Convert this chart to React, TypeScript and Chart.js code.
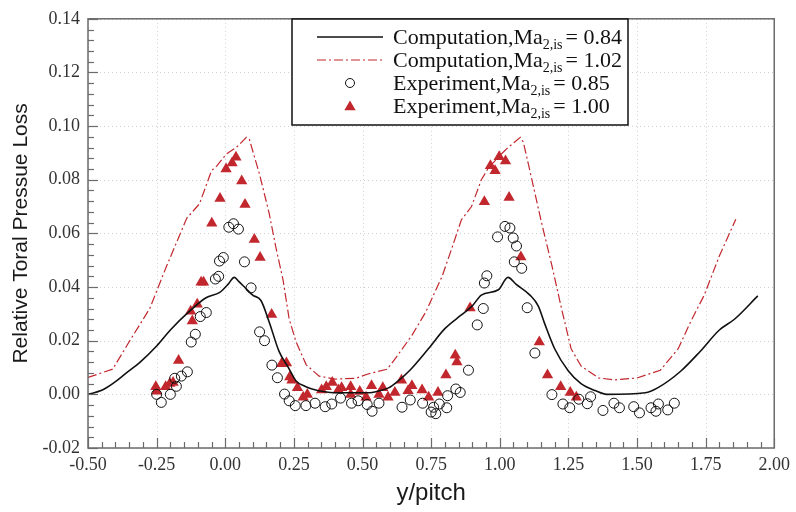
import { useEffect, useRef } from 'react';
import { Chart, registerables } from 'chart.js';

Chart.register(...registerables);

// Tick values along each axis
const X_TICKS = [-0.5, -0.25, 0, 0.25, 0.5, 0.75, 1.0, 1.25, 1.5, 1.75, 2.0];
const Y_TICKS = [-0.02, 0, 0.02, 0.04, 0.06, 0.08, 0.1, 0.12, 0.14];

// Computation, Ma2,is = 0.84 (solid line)
const COMP084_X = [-0.5, -0.45, -0.41, -0.36, -0.31, -0.25, -0.2, -0.13, -0.07, -0.02, 0.01, 0.033, 0.05, 0.07, 0.1, 0.13, 0.16, 0.196, 0.23, 0.258, 0.29, 0.316, 0.4, 0.52, 0.56, 0.595, 0.63, 0.67, 0.74, 0.8, 0.86, 0.9, 0.933, 0.995, 1.03, 1.06, 1.11, 1.14, 1.165, 1.2, 1.25, 1.296, 1.35, 1.39, 1.53, 1.575, 1.66, 1.73, 1.8, 1.855, 1.94];
const COMP084_Y = [0.0, 0.0015, 0.004, 0.008, 0.012, 0.018, 0.024, 0.031, 0.036, 0.038, 0.041, 0.0436, 0.042, 0.04, 0.037, 0.035, 0.027, 0.016, 0.01, 0.005, 0.003, 0.002, 0.0006, 0.0006, 0.0013, 0.0024, 0.005, 0.0087, 0.017, 0.0245, 0.0296, 0.033, 0.037, 0.039, 0.0436, 0.041, 0.037, 0.033, 0.026, 0.017, 0.0087, 0.004, 0.0013, 0.0, 0.0006, 0.0024, 0.0087, 0.016, 0.024, 0.028, 0.0367];

// Computation, Ma2,is = 1.02 (dash-dot line)
const COMP102_X = [-0.5, -0.41, -0.35, -0.275, -0.213, -0.14, -0.094, -0.05, -0.032, 0.004, 0.04, 0.077, 0.088, 0.125, 0.16, 0.186, 0.21, 0.233, 0.258, 0.295, 0.342, 0.4, 0.476, 0.52, 0.59, 0.62, 0.68, 0.73, 0.79, 0.824, 0.86, 0.897, 0.933, 0.96, 1.006, 1.03, 1.075, 1.086, 1.115, 1.15, 1.19, 1.225, 1.26, 1.296, 1.36, 1.42, 1.5, 1.585, 1.65, 1.695, 1.745, 1.8, 1.86];
const COMP102_Y = [0.0063, 0.0094, 0.0196, 0.032, 0.048, 0.0657, 0.071, 0.0834, 0.085, 0.0896, 0.092, 0.0958, 0.095, 0.082, 0.0675, 0.054, 0.043, 0.028, 0.0196, 0.011, 0.0068, 0.0057, 0.006, 0.0076, 0.0094, 0.0134, 0.022, 0.0306, 0.044, 0.054, 0.065, 0.07, 0.08, 0.0846, 0.0896, 0.092, 0.0958, 0.094, 0.081, 0.065, 0.048, 0.032, 0.017, 0.0106, 0.0061, 0.0054, 0.0061, 0.009, 0.017, 0.027, 0.037, 0.0516, 0.0653];

// Experiment, Ma2,is = 0.85 (open circles)
const EXP085_X = [-0.25, -0.233, -0.2, -0.184, -0.178, -0.16, -0.138, -0.124, -0.109, -0.091, -0.069, -0.036, -0.024, -0.021, -0.007, 0.013, 0.03, 0.048, 0.07, 0.094, 0.125, 0.143, 0.17, 0.19, 0.216, 0.233, 0.255, 0.294, 0.327, 0.364, 0.388, 0.42, 0.46, 0.484, 0.517, 0.535, 0.56, 0.644, 0.674, 0.719, 0.75, 0.759, 0.767, 0.78, 0.807, 0.81, 0.84, 0.856, 0.886, 0.918, 0.94, 0.944, 0.953, 0.992, 1.019, 1.037, 1.049, 1.061, 1.053, 1.08, 1.1, 1.128, 1.19, 1.23, 1.255, 1.288, 1.319, 1.331, 1.376, 1.416, 1.436, 1.488, 1.509, 1.551, 1.569, 1.578, 1.612, 1.636];
const EXP085_Y = [0.0, -0.003, 0.0, 0.006, 0.003, 0.0068, 0.0084, 0.0195, 0.0224, 0.029, 0.0305, 0.043, 0.044, 0.0497, 0.051, 0.0623, 0.0636, 0.0616, 0.0494, 0.0397, 0.0233, 0.02, 0.0109, 0.0062, 0.0001, -0.0024, -0.0042, -0.0042, -0.0033, -0.0046, -0.0036, -0.0014, -0.0033, -0.0024, -0.0038, -0.0063, -0.0033, -0.0048, -0.0021, -0.0033, -0.0066, -0.0048, -0.0072, -0.0036, -0.005, -0.0005, 0.002, 0.0007, 0.009, 0.0259, 0.032, 0.0415, 0.0442, 0.0587, 0.0626, 0.062, 0.0583, 0.0553, 0.0494, 0.047, 0.0323, 0.0154, -0.0001, -0.0036, -0.005, -0.0018, -0.0035, -0.0009, -0.006, -0.0033, -0.005, -0.0046, -0.0069, -0.005, -0.0063, -0.0036, -0.0058, -0.0033];

// Experiment, Ma2,is = 1.00 (filled triangles)
const EXP100_X = [-0.253, -0.25, -0.217, -0.202, -0.19, -0.17, -0.126, -0.12, -0.102, -0.088, -0.079, -0.049, -0.019, 0.003, 0.025, 0.039, 0.06, 0.072, 0.106, 0.127, 0.169, 0.205, 0.223, 0.235, 0.243, 0.263, 0.284, 0.299, 0.351, 0.368, 0.39, 0.412, 0.424, 0.457, 0.457, 0.49, 0.513, 0.533, 0.56, 0.574, 0.593, 0.618, 0.642, 0.666, 0.68, 0.717, 0.741, 0.775, 0.804, 0.838, 0.844, 0.892, 0.944, 0.966, 0.983, 0.998, 1.021, 1.034, 1.077, 1.144, 1.174, 1.222, 1.257, 1.279];
const EXP100_Y = [0.0028, 0.0012, 0.0028, 0.004, 0.0044, 0.0126, 0.031, 0.0273, 0.0336, 0.0418, 0.0418, 0.0638, 0.073, 0.084, 0.0862, 0.0884, 0.0795, 0.0708, 0.0577, 0.051, 0.0298, 0.0114, 0.0117, 0.0065, 0.0053, 0.0025, -0.0011, -0.0001, 0.0016, 0.0028, 0.0044, 0.0016, 0.0025, 0.0028, -0.0001, 0.0011, -0.0011, 0.0032, -0.0001, 0.0025, -0.0011, 0.0007, 0.0053, 0.0013, 0.0032, 0.0016, -0.0011, 0.0007, 0.0072, 0.0146, 0.0121, 0.0322, 0.0718, 0.0852, 0.0834, 0.0886, 0.087, 0.0734, 0.0512, 0.0195, 0.0072, 0.0028, 0.0007, -0.0011];

const LEGEND_ROWS = [
  { head: 'Computation,Ma', sub: '2,is', tail: '= 0.84' },
  { head: 'Computation,Ma', sub: '2,is', tail: '= 1.02' },
  { head: 'Experiment,Ma', sub: '2,is', tail: '= 0.85' },
  { head: 'Experiment,Ma', sub: '2,is', tail: '= 1.00' },
];

const RED = '#c1272d';
const AXIS_GREY = '#6b6b6b';
const SERIF = '"Liberation Serif", "Times New Roman", serif';
const SANS = '"Liberation Sans", Arial, sans-serif';
const DASH_DOT = [9, 3, 2, 3];

const pairs = (xs: number[], ys: number[]) => xs.map((x, i) => ({ x, y: ys[i] }));

const drawTriangle = (ctx: CanvasRenderingContext2D, x: number, y: number, r: number) => {
  ctx.beginPath();
  for (let k = 0; k < 3; k++) {
    const a = (k * 2 * Math.PI) / 3;
    const px = x + Math.sin(a) * r;
    const py = y - Math.cos(a) * r;
    if (k === 0) ctx.moveTo(px, py);
    else ctx.lineTo(px, py);
  }
  ctx.closePath();
  ctx.fill();
};

// Grid, frame with inward ticks, axis titles and the legend box
const framePlugin = {
  id: 'frame',
  beforeDatasetsDraw(chart: any) {
    const { ctx, chartArea: a, scales } = chart;
    ctx.save();
    ctx.strokeStyle = '#d0d0d0';
    ctx.lineWidth = 1;
    ctx.setLineDash([1, 3]);
    X_TICKS.forEach((v) => {
      const px = Math.round(scales.x.getPixelForValue(v)) + 0.5;
      ctx.beginPath();
      ctx.moveTo(px, a.top);
      ctx.lineTo(px, a.bottom);
      ctx.stroke();
    });
    Y_TICKS.forEach((v) => {
      const py = Math.round(scales.y.getPixelForValue(v)) + 0.5;
      ctx.beginPath();
      ctx.moveTo(a.left, py);
      ctx.lineTo(a.right, py);
      ctx.stroke();
    });
    ctx.restore();
  },
  afterDatasetsDraw(chart: any) {
    const { ctx, chartArea: a, scales } = chart;
    ctx.save();
    ctx.setLineDash([]);
    ctx.strokeStyle = AXIS_GREY;
    ctx.lineWidth = 1.5;
    ctx.strokeRect(a.left, a.top, a.right - a.left, a.bottom - a.top);

    ctx.lineWidth = 1.2;
    // x ticks: major every 0.25, minor every 0.05
    for (let i = 0; i <= 50; i++) {
      const v = -0.5 + i * 0.05;
      const px = Math.round(scales.x.getPixelForValue(v)) + 0.5;
      const len = i % 5 === 0 ? 10 : 6;
      ctx.beginPath();
      ctx.moveTo(px, a.bottom);
      ctx.lineTo(px, a.bottom - len);
      ctx.stroke();
    }
    // y ticks: major every 0.02, minor every 0.004
    for (let i = 0; i <= 40; i++) {
      const v = -0.02 + i * 0.004;
      const py = Math.round(scales.y.getPixelForValue(v)) + 0.5;
      const len = i % 5 === 0 ? 10 : 6;
      ctx.beginPath();
      ctx.moveTo(a.left, py);
      ctx.lineTo(a.left + len, py);
      ctx.stroke();
    }

    // axis titles
    ctx.fillStyle = '#1a1a1a';
    ctx.font = `24px ${SANS}`;
    ctx.textAlign = 'center';
    ctx.textBaseline = 'middle';
    ctx.fillText('y/pitch', (a.left + a.right) / 2, 493);
    ctx.save();
    ctx.translate(21, (a.top + a.bottom) / 2);
    ctx.rotate(-Math.PI / 2);
    ctx.font = `21px ${SANS}`;
    ctx.fillText('Relative Toral Pressue Loss', 0, 0);
    ctx.restore();

    // legend
    const bx = 292, by = 19, bw = 336, bh = 106;
    ctx.fillStyle = '#ffffff';
    ctx.fillRect(bx, by, bw, bh);
    ctx.strokeStyle = '#111111';
    ctx.lineWidth = 1.5;
    ctx.strokeRect(bx, by, bw, bh);

    const rowY = [37, 60, 83, 106];
    const symX0 = 317, symX1 = 383, symC = 350, textX = 393;
    // row symbols
    ctx.lineWidth = 1.6;
    ctx.strokeStyle = '#111111';
    ctx.beginPath();
    ctx.moveTo(symX0, rowY[0]);
    ctx.lineTo(symX1, rowY[0]);
    ctx.stroke();
    ctx.strokeStyle = RED;
    ctx.lineWidth = 1.2;
    ctx.setLineDash(DASH_DOT);
    ctx.beginPath();
    ctx.moveTo(symX0, rowY[1]);
    ctx.lineTo(symX1, rowY[1]);
    ctx.stroke();
    ctx.setLineDash([]);
    ctx.strokeStyle = '#111111';
    ctx.lineWidth = 1;
    ctx.beginPath();
    ctx.arc(symC, rowY[2], 4.5, 0, Math.PI * 2);
    ctx.stroke();
    ctx.fillStyle = RED;
    drawTriangle(ctx, symC, rowY[3] + 1, 6.5);

    // row texts with subscripts
    ctx.fillStyle = '#111111';
    ctx.textAlign = 'left';
    ctx.textBaseline = 'alphabetic';
    LEGEND_ROWS.forEach((row, i) => {
      const base = rowY[i] + 7;
      let x = textX;
      ctx.font = `22px ${SERIF}`;
      ctx.fillText(row.head, x, base);
      x += ctx.measureText(row.head).width;
      ctx.font = `14px ${SERIF}`;
      ctx.fillText(row.sub, x, base + 5);
      x += ctx.measureText(row.sub).width + 3;
      ctx.font = `22px ${SERIF}`;
      ctx.fillText(row.tail, x, base);
    });
    ctx.restore();
  },
};

export default function App() {
  const ref = useRef<HTMLCanvasElement>(null);

  useEffect(() => {
    if (!ref.current) return;
    const tickFont = { family: SERIF, size: 18 };
    const chart = new Chart(ref.current, {
      type: 'scatter',
      data: {
        datasets: [
          {
            label: 'Computation,Ma2,is = 0.84',
            type: 'line',
            data: pairs(COMP084_X, COMP084_Y),
            borderColor: '#111111',
            borderWidth: 1.6,
            pointRadius: 0,
            fill: false,
            tension: 0.3,
            cubicInterpolationMode: 'monotone',
          },
          {
            label: 'Computation,Ma2,is = 1.02',
            type: 'line',
            data: pairs(COMP102_X, COMP102_Y),
            borderColor: RED,
            borderWidth: 1.2,
            borderDash: DASH_DOT,
            pointRadius: 0,
            fill: false,
            tension: 0,
          },
          {
            label: 'Experiment,Ma2,is = 0.85',
            data: pairs(EXP085_X, EXP085_Y),
            pointStyle: 'circle',
            pointRadius: 5,
            pointBorderWidth: 1,
            pointBorderColor: '#111111',
            pointBackgroundColor: 'rgba(0,0,0,0)',
          },
          {
            label: 'Experiment,Ma2,is = 1.00',
            data: pairs(EXP100_X, EXP100_Y),
            pointStyle: 'triangle',
            pointRadius: 6.5,
            pointBorderWidth: 0,
            pointBorderColor: RED,
            pointBackgroundColor: RED,
          },
        ],
      } as any,
      options: {
        animation: false,
        responsive: false,
        maintainAspectRatio: false,
        layout: { padding: { top: 13, right: 19, left: 0, bottom: 0 } },
        plugins: { legend: { display: false }, tooltip: { enabled: false } },
        scales: {
          x: {
            type: 'linear',
            min: -0.5,
            max: 2.0,
            afterBuildTicks: (s: any) => {
              s.ticks = X_TICKS.map((value) => ({ value }));
            },
            afterFit: (s: any) => {
              s.height = 64;
            },
            ticks: {
              font: tickFont,
              color: '#333333',
              padding: 6,
              maxRotation: 0,
              autoSkip: false,
              callback: (v: any) => Number(v).toFixed(2),
            },
            grid: { display: false, drawTicks: false },
            border: { display: false },
          },
          y: {
            type: 'linear',
            min: -0.02,
            max: 0.14,
            afterBuildTicks: (s: any) => {
              s.ticks = Y_TICKS.map((value) => ({ value }));
            },
            afterFit: (s: any) => {
              s.width = 88;
            },
            ticks: {
              font: tickFont,
              color: '#333333',
              padding: 8,
              autoSkip: false,
              callback: (v: any) => Number(v).toFixed(2),
            },
            grid: { display: false, drawTicks: false },
            border: { display: false },
          },
        },
      },
      plugins: [framePlugin],
    });
    return () => chart.destroy();
  }, []);

  return (
    <div style={{ position: 'fixed', left: 0, top: 0, width: 796, height: 512, background: '#ffffff' }}>
      <canvas ref={ref} width={796} height={512} style={{ width: 796, height: 512, display: 'block' }} />
    </div>
  );
}
